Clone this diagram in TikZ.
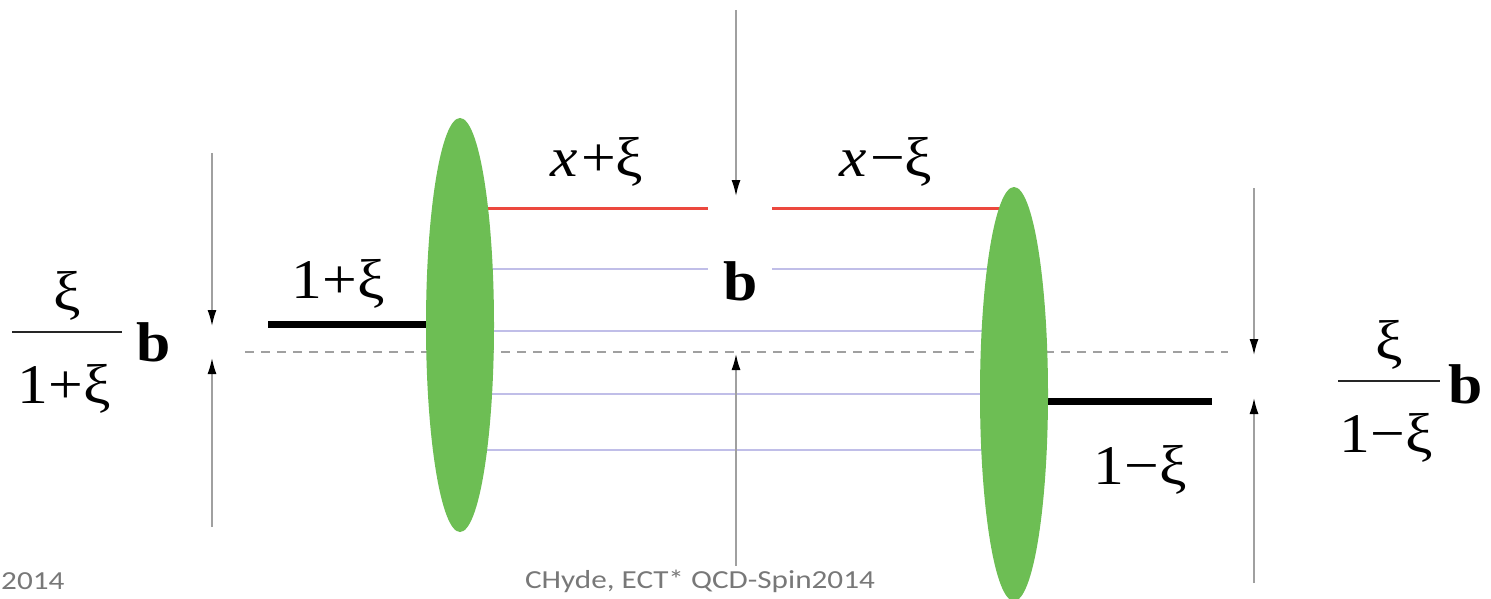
\documentclass[tikz,border=0pt]{standalone}
\usepackage{fontspec}
\usepackage{graphicx}
\setmainfont{Liberation Serif}
\newfontfamily\footfont{Carlito}
\usetikzlibrary{arrows.meta,shapes.geometric,backgrounds}
\definecolor{blobgreen}{RGB}{109,190,84}
\definecolor{quarkred}{RGB}{236,72,62}
\definecolor{partonlav}{RGB}{192,190,232}
\definecolor{guidegray}{RGB}{160,160,160}
\definecolor{footgray}{RGB}{120,120,120}
\newcommand{\wide}[1]{\scalebox{1.1}[1]{#1}}
\newcommand{\footwide}[1]{\scalebox{1.2}[1]{#1}}
\tikzset{
  blob/.style={ellipse, fill=blobgreen, draw=none, inner sep=0pt, minimum width=68, minimum height=414},
  redline/.style={draw=quarkred, line width=3},
  lavline/.style={draw=partonlav, line width=2.2},
  extline/.style={draw=black, line width=7},
  guide/.style={draw=guidegray, line width=1.6, -{Latex[length=16,width=9,color=black]}},
  lbl/.style={font=\fontsize{56}{66}\selectfont, inner sep=0pt},
  fracrule/.style={draw=black!85, line width=2.6},
  foot/.style={font=\footfont\fontsize{26}{30}\selectfont, text=footgray, inner sep=0pt}
}
\begin{document}
\begin{tikzpicture}[x=1pt,y=-1pt]
\useasboundingbox (0,0) rectangle (1491,599);
% blobs
\node[blob] (L) at (460,325) {};
\node[blob] (R) at (1014,394) {};
% coordinates for line ends
\coordinate (r1a) at (708,208); \coordinate (r1b) at (772,208);
\coordinate (l1a) at (708,269); \coordinate (l1b) at (772,269);
\coordinate (eL) at (268,324);
\coordinate (eR) at (1212,401);
\coordinate (dL) at (245,352);
\coordinate (dR) at (1228,352);
\begin{scope}[on background layer]
  \draw[redline] (L.center |- r1a) -- (r1a);
  \draw[redline] (r1b) -- (R.center |- r1b);
  \draw[lavline] (L.center |- l1a) -- (l1a);
  \draw[lavline] (l1b) -- (R.center |- l1b);
  \draw[lavline] (L.center |- 0,331) -- (R.center |- 0,331);
  \draw[lavline] (L.center |- 0,394) -- (R.center |- 0,394);
  \draw[lavline] (L.center |- 0,450) -- (R.center |- 0,450);
  \draw[guidegray, line width=2.5, dash pattern=on 9 off 7] (dL) -- (dR);
  \draw[extline] (eL) -- (L.center |- eL);
  \draw[extline] (R.center |- eR) -- (eR);
\end{scope}
% guide arrows
\coordinate (gL1) at (212,153); \coordinate (gL2) at (212,326);
\coordinate (gL3) at (212,527); \coordinate (gL4) at (212,358);
\coordinate (gM1) at (736,10);  \coordinate (gM2) at (736,196);
\coordinate (gM3) at (736,566); \coordinate (gM4) at (736,354);
\coordinate (gR1) at (1254,188); \coordinate (gR2) at (1254,355);
\coordinate (gR3) at (1254,583); \coordinate (gR4) at (1254,398);
\draw[guide] (gL1) -- (gL2);
\draw[guide] (gL3) -- (gL4);
\draw[guide] (gM1) -- (gM2);
\draw[guide] (gM3) -- (gM4);
\draw[guide] (gR1) -- (gR2);
\draw[guide] (gR3) -- (gR4);
% labels
\node[lbl] (xp) at (597,162) {\wide{{\itshape x}\kern3pt+ξ}};
\node[lbl] (xm) at (886,162) {\wide{{\itshape x}\kern3pt−ξ}};
\node[lbl] (bm) at (741,281) {\wide{\bfseries b}};
\node[lbl] (op) at (338,284) {\wide{1+ξ}};
\node[lbl] (om) at (1140,470) {\wide{1−ξ}};
% left fraction
\coordinate (flr1) at (12,332); \coordinate (flr2) at (122,332);
\draw[fracrule] (flr1) -- (flr2);
\node[lbl, anchor=base] (fln) at (67,310) {\wide{ξ}};
\node[lbl, anchor=base] (fld) at (64,403) {\wide{1+ξ}};
\node[lbl, anchor=base] (flb) at (154,361) {\wide{\bfseries b}};
% right fraction
\coordinate (frr1) at (1338,381); \coordinate (frr2) at (1440,381);
\draw[fracrule] (frr1) -- (frr2);
\node[lbl, anchor=base] (frn) at (1389,359) {\wide{ξ}};
\node[lbl, anchor=base] (frd) at (1386,452) {\wide{1−ξ}};
\node[lbl, anchor=base] (frb) at (1466,403) {\wide{\bfseries b}};
% footer
\node[foot, anchor=west] (fy) at (1,581) {\footwide{2014}};
\node[foot] (fc) at (700,581) {\footwide{CHyde, ECT* QCD-Spin2014}};
\end{tikzpicture}
\end{document}
